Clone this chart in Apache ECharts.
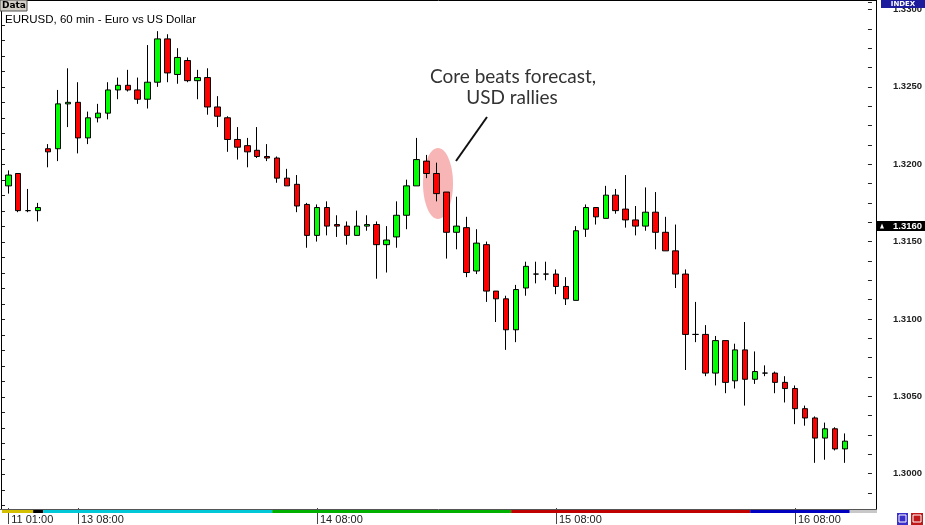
<!DOCTYPE html>
<html><head><meta charset="utf-8">
<script src="https://cdn.jsdelivr.net/npm/echarts@6/dist/echarts.min.js"></script>
<style>html,body{margin:0;padding:0;background:#fff}#c{width:925px;height:525px}</style>
</head><body><div id="c"></div>
<script>
// EURUSD 60-min candles
const opens  = [1.3186,1.3194,1.3170,1.3170,1.3210,1.3210,1.3239,1.3240,1.3217,1.3230,
                1.3233,1.3248,1.3251,1.3248,1.3242,1.3253,1.3281,1.3258,1.3267,1.3254,
                1.3256,1.3237,1.3230,1.3216,1.3212,1.3209,1.3205,1.3204,1.3191,1.3187,
                1.3174,1.3154,1.3172,1.3161,1.3160,1.3154,1.3160,1.3161,1.3148,1.3153,
                1.3167,1.3186,1.3202,1.3194,1.3182,1.3156,1.3159,1.3131,1.3148,1.3118,
                1.3113,1.3093,1.3120,1.3129,1.3129,1.3129,1.3121,1.3112,1.3158,1.3172,
                1.3165,1.3180,1.3171,1.3164,1.3160,1.3169,1.3156,1.3144,1.3129,1.3090,
                1.3090,1.3065,1.3086,1.3060,1.3080,1.3061,1.3065,1.3065,1.3059,1.3055,
                1.3042,1.3036,1.3023,1.3029,1.3016];
const highs  = [1.3196,1.3194,1.3184,1.3175,1.3213,1.3248,1.3262,1.3253,1.3234,1.3239,
                1.3253,1.3256,1.3261,1.3256,1.3277,1.3286,1.3284,1.3275,1.3269,1.3261,
                1.3262,1.3244,1.3231,1.3224,1.3217,1.3224,1.3213,1.3205,1.3197,1.3193,
                1.3175,1.3174,1.3176,1.3167,1.3163,1.3170,1.3167,1.3163,1.3160,1.3176,
                1.3190,1.3217,1.3206,1.3201,1.3182,1.3179,1.3166,1.3158,1.3150,1.3118,
                1.3115,1.3122,1.3137,1.3137,1.3137,1.3132,1.3127,1.3160,1.3174,1.3172,
                1.3186,1.3184,1.3193,1.3173,1.3185,1.3182,1.3166,1.3161,1.3132,1.3111,
                1.3096,1.3089,1.3086,1.3084,1.3098,1.3079,1.3070,1.3066,1.3063,1.3057,
                1.3044,1.3037,1.3033,1.3030,1.3026];
const lows   = [1.3181,1.3169,1.3169,1.3163,1.3198,1.3202,1.3224,1.3207,1.3213,1.3227,
                1.3229,1.3242,1.3247,1.3239,1.3236,1.3250,1.3253,1.3252,1.3253,1.3242,
                1.3232,1.3224,1.3208,1.3203,1.3198,1.3204,1.3202,1.3188,1.3186,1.3169,
                1.3146,1.3150,1.3154,1.3153,1.3148,1.3154,1.3157,1.3126,1.3130,1.3146,
                1.3158,1.3186,1.3191,1.3176,1.3139,1.3145,1.3127,1.3129,1.3111,1.3098,
                1.3080,1.3085,1.3115,1.3123,1.3125,1.3116,1.3109,1.3112,1.3153,1.3161,
                1.3165,1.3168,1.3159,1.3154,1.3157,1.3145,1.3144,1.3120,1.3067,1.3085,
                1.3063,1.3057,1.3052,1.3055,1.3044,1.3058,1.3063,1.3052,1.3046,1.3032,
                1.3031,1.3007,1.3009,1.3015,1.3007];
const closes = [1.3193,1.3170,1.3170,1.3172,1.3208,1.3239,1.3240,1.3217,1.3230,1.3233,
                1.3248,1.3251,1.3248,1.3242,1.3253,1.3281,1.3259,1.3269,1.3254,1.3256,
                1.3237,1.3231,1.3216,1.3211,1.3208,1.3205,1.3204,1.3191,1.3186,1.3173,
                1.3154,1.3172,1.3160,1.3160,1.3154,1.3160,1.3161,1.3148,1.3151,1.3167,
                1.3186,1.3203,1.3194,1.3181,1.3156,1.3160,1.3130,1.3149,1.3118,1.3113,
                1.3093,1.3119,1.3134,1.3129,1.3129,1.3121,1.3113,1.3157,1.3172,1.3166,
                1.3180,1.3170,1.3164,1.3160,1.3169,1.3156,1.3144,1.3129,1.3090,1.3090,
                1.3065,1.3086,1.3059,1.3080,1.3061,1.3066,1.3065,1.3059,1.3055,1.3042,
                1.3036,1.3023,1.3029,1.3016,1.3021];
const timeLabels = ['11 01:00','13 08:00','14 08:00','15 08:00','16 08:00'];
const timeLabelIndex = [0, 7, 31, 55, 79];
const priceTag = 1.3160;
const dayBreaks = [2.5, 3.5, 26.5, 50.5, 74.5, 84.5];   // day separators (candle positions)
const dayColors = ['#D4C000', '#000000', '#00C8D8', '#00B000', '#C00000', '#0000C0'];
const categories = opens.map((_, i) => String(i));

const chart = echarts.init(document.getElementById('c'), null, {renderer: 'canvas'});
const isMajor = v => Math.abs(v / 0.005 - Math.round(v / 0.005)) < 1e-6;
const AXIS_FONT = 'Liberation Sans';

chart.setOption({
  animation: false,
  grid: [
    {left: 3.3, width: 851, top: 1.75, height: 492.125},
    {left: 2, width: 851, top: 1.75, height: 503.75}
  ],
  xAxis: [
    {type: 'category', gridIndex: 0, data: categories, boundaryGap: true, offset: 15,
     axisLine: {show: false},
     axisTick: {show: true, alignWithLabel: true, length: 16,
                interval: i => timeLabelIndex.includes(i), lineStyle: {color: '#444'}},
     axisLabel: {interval: i => timeLabelIndex.includes(i),
                 formatter: (v, i) => { const k = timeLabelIndex.indexOf(i); return k >= 0 ? timeLabels[k] : ''; },
                 align: 'left', margin: 6, padding: [0, 0, 0, 3], fontSize: 11,
                 color: '#222', fontFamily: 'Liberation Sans'},
     splitLine: {show: false}},
    {type: 'value', gridIndex: 1, show: false}
  ],
  yAxis: [
    {type: 'value', gridIndex: 0, position: 'right', offset: 22.2,
     min: 1.29875, max: 1.3305, interval: 0.00125,
     axisLine: {show: false},
     axisTick: {show: true, inside: true, length: 4, lineStyle: {color: '#222'}},
     axisLabel: {formatter: v => isMajor(v) ? v.toFixed(4) : '', margin: 21,
                 fontSize: 9.5, fontWeight: 'bold', color: '#222', fontFamily: AXIS_FONT},
     splitLine: {show: false}},
    {type: 'value', gridIndex: 1, position: 'left', min: 1.298, max: 1.3305, interval: 0.001,
     axisLine: {show: false},
     axisTick: {show: true, inside: true, length: 3, lineStyle: {color: '#222'}},
     axisLabel: {show: false}, splitLine: {show: false}}
  ],
  series: [{
    type: 'candlestick', xAxisIndex: 0, yAxisIndex: 0, barWidth: 6,
    data: opens.map((o, i) => [o, closes[i], lows[i], highs[i]]),
    itemStyle: {color: '#00FF00', color0: '#FF0000', borderColor: '#000', borderColor0: '#000', borderWidth: 1}
  }]
});

// decorations
const px = i => chart.convertToPixel({xAxisIndex: 0}, i);
const step = px(1) - px(0);
const xAt = p => px(0) + p * step;
const tagY = chart.convertToPixel({yAxisIndex: 0}, priceTag);
const g = [];
// frame
g.push({type: 'line', z: 100, shape: {x1: 0, y1: 0.5, x2: 877, y2: 0.5}, style: {stroke: '#000', lineWidth: 1}});
g.push({type: 'line', z: 100, shape: {x1: 1.5, y1: 0, x2: 1.5, y2: 510}, style: {stroke: '#000', lineWidth: 1}});
g.push({type: 'line', z: 100, shape: {x1: 876.5, y1: 0, x2: 876.5, y2: 510}, style: {stroke: '#000', lineWidth: 1}});
g.push({type: 'line', z: 100, shape: {x1: 0, y1: 509.5, x2: 877, y2: 509.5}, style: {stroke: '#555', lineWidth: 1}});
// day colour bar
let start = 2;
dayBreaks.forEach((b, k) => {
  const end = xAt(b);
  g.push({type: 'rect', z: 100, shape: {x: start, y: 510, width: end - start, height: 3}, style: {fill: dayColors[k]}});
  start = end;
});
g.push({type: 'rect', z: 100, shape: {x: start, y: 510, width: 877 - start, height: 3}, style: {fill: '#C8C8C8'}});
// Data box and title
g.push({type: 'rect', z: 100, shape: {x: 0, y: 0, width: 27, height: 11}, style: {fill: '#D4D0C8', stroke: '#555', lineWidth: 1}});
g.push({type: 'text', z: 101, x: 2, y: 6, style: {text: 'Data', font: 'bold 9px "DejaVu Sans"', fill: '#000', verticalAlign: 'middle'}});
g.push({type: 'text', z: 101, x: 5, y: 19.5, style: {text: 'EURUSD, 60 min - Euro vs US Dollar', font: '11.5px "Liberation Sans"', fill: '#000', verticalAlign: 'middle'}});
// INDEX box
g.push({type: 'rect', z: 110, shape: {x: 881, y: 0, width: 44, height: 8}, style: {fill: '#1C1C9C'}});
g.push({type: 'text', z: 111, x: 903, y: 4.5, style: {text: 'INDEX', font: 'bold 7px "DejaVu Sans"', fill: '#fff', align: 'center', verticalAlign: 'middle'}});
// price tag
g.push({type: 'rect', z: 110, shape: {x: 877, y: tagY - 5, width: 48, height: 10}, style: {fill: '#000'}});
g.push({type: 'polygon', z: 111, shape: {points: [[880, tagY + 2.5], [884, tagY + 2.5], [882, tagY - 2.5]]}, style: {fill: '#fff'}});
g.push({type: 'text', z: 111, x: 893, y: tagY, style: {text: priceTag.toFixed(4), font: 'bold 9.5px "Liberation Sans"', fill: '#fff', verticalAlign: 'middle'}});
// bottom-right buttons
g.push({type: 'rect', z: 110, shape: {x: 897, y: 513, width: 11, height: 12}, style: {fill: '#3A2FC8'}});
g.push({type: 'rect', z: 111, shape: {x: 899, y: 515, width: 7, height: 7}, style: {fill: 'none', stroke: '#fff', lineWidth: 1}});
g.push({type: 'rect', z: 110, shape: {x: 911, y: 513, width: 12, height: 12}, style: {fill: '#C01818'}});
g.push({type: 'rect', z: 111, shape: {x: 913, y: 515, width: 8, height: 7}, style: {fill: 'none', stroke: '#fff', lineWidth: 1}});
// annotation
g.push({type: 'ellipse', z: 0, shape: {cx: 438, cy: 183.5, rx: 15, ry: 35.5}, style: {fill: '#F7B5B5'}});
g.push({type: 'line', z: 100, shape: {x1: 487, y1: 117, x2: 456, y2: 161}, style: {stroke: '#111', lineWidth: 2}});
g.push({type: 'text', z: 100, x: 513, y: 77, style: {text: 'Core beats forecast,', font: '19px Lato', fill: '#333', align: 'center', verticalAlign: 'middle'}});
g.push({type: 'text', z: 100, x: 512, y: 98, style: {text: 'USD rallies', font: '19px Lato', fill: '#333', align: 'center', verticalAlign: 'middle'}});
chart.setOption({graphic: {elements: g}});
</script></body></html>
